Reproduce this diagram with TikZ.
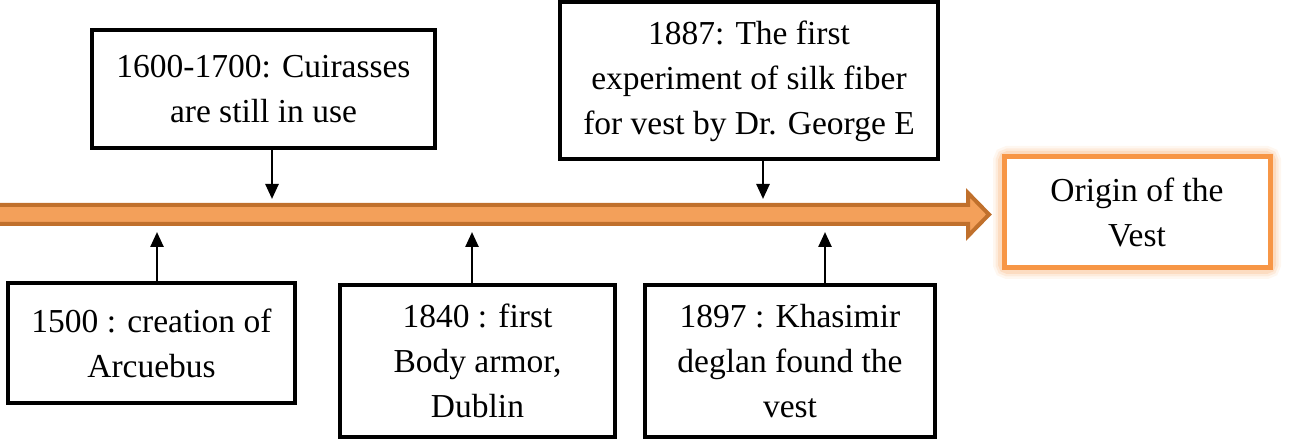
\documentclass[tikz,border=0pt]{standalone}
\usepackage{fontspec}
\setmainfont{Liberation Serif}
\usetikzlibrary{arrows.meta}
\definecolor{brn}{HTML}{C0702C}
\definecolor{lor}{HTML}{F3A05A}
\definecolor{org}{HTML}{F79646}
\begin{document}
\begin{tikzpicture}[x=1pt,y=-1pt,
  box/.style={draw=black,line width=4pt,align=center,inner sep=0pt,font=\fontsize{33.5}{45}\selectfont},
  conn/.style={line width=2.5pt,-{Triangle[length=15pt,width=13pt]}}]
\useasboundingbox (0,0) rectangle (1292,443);
% timeline arrow
\draw[brn,line width=4pt,fill=lor,line join=miter] (-5,205) -- (968,205) -- (968,193) -- (989,214.5) -- (968,236) -- (968,224) -- (-5,224) -- cycle;
% boxes
\node[box,minimum width=343pt,minimum height=118pt] (t1) at (263.5,89) {1600-1700: Cuirasses\\are still in use};
\node[box,minimum width=378pt,minimum height=157pt] (t2) at (749,81) {1887: The first\\experiment of silk fiber\\for vest by Dr. George E};
\node[box,minimum width=287pt,minimum height=120pt] (b1) at (151.5,343) {1500 : creation of\\Arcuebus};
\node[box,minimum width=275pt,minimum height=152pt] (b2) at (477.5,361) {1840 : first\\Body armor,\\Dublin};
\node[box,minimum width=290pt,minimum height=152pt] (b3) at (790,361) {1897 : Khasimir\\deglan found the\\vest};
% origin box with glow
\foreach \w/\o in {22/0.08,17/0.12,12/0.18}
  \draw[org,line width=\w pt,opacity=\o,rounded corners=4pt] (1004,157) rectangle (1270,268);
\node[box,draw=org,line width=5pt,minimum width=266pt,minimum height=111pt,fill=white] (o) at (1137,212.5) {Origin of the\\Vest};
% connectors
\coordinate (c1) at (272,199);
\coordinate (c2) at (763,199);
\coordinate (c3) at (157,232);
\coordinate (c4) at (472,232);
\coordinate (c5) at (825,232);
\draw[conn] (t1.south -| c1) -- (c1);
\draw[conn] (t2.south -| c2) -- (c2);
\draw[conn] (b1.north -| c3) -- (c3);
\draw[conn] (b2.north -| c4) -- (c4);
\draw[conn] (b3.north -| c5) -- (c5);
\end{tikzpicture}
\end{document}
